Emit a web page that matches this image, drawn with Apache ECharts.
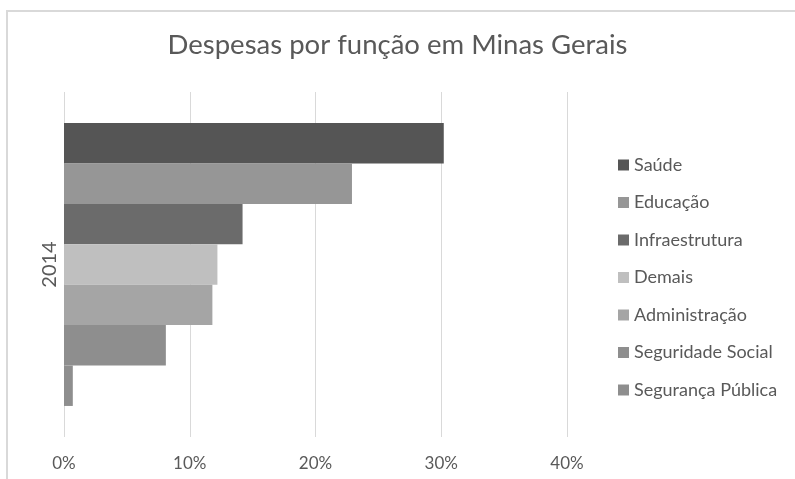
<!DOCTYPE html>
<html>
<head>
<meta charset="utf-8">
<script src="https://cdn.jsdelivr.net/npm/echarts@6/dist/echarts.min.js"></script>
<style>html,body{margin:0;padding:0;background:#fff}#c{width:795px;height:479px}</style>
</head>
<body>
<div id="c"></div>
<script>
const categories = ['2014'];
const seriesNames = ['Saúde', 'Educação', 'Infraestrutura', 'Demais', 'Administração', 'Seguridade Social', 'Segurança Pública'];
const seriesValues = [0.302, 0.229, 0.142, 0.122, 0.118, 0.081, 0.007];
const seriesColors = ['#555555', '#969696', '#6b6b6b', '#bfbfbf', '#a5a5a5', '#8e8e8e', '#8e8e8e'];
const tickValues = [0, 0.1, 0.2, 0.3, 0.4];

const font = 'Lato, "Open Sans", sans-serif';
const chart = echarts.init(document.getElementById('c'), null, {renderer: 'canvas'});
chart.setOption({
  animation: false,
  backgroundColor: '#ffffff',
  title: {
    text: 'Despesas por função em Minas Gerais',
    left: 'center', top: 26,
    textStyle: {color: '#595959', fontSize: 27.5, fontWeight: 'normal', fontFamily: font}
  },
  legend: {
    orient: 'vertical',
    left: 613, top: 151,
    itemWidth: 11, itemHeight: 11, itemGap: 19.5,
    icon: 'rect',
    textStyle: {color: '#595959', fontSize: 18, fontFamily: font},
    data: seriesNames
  },
  grid: {left: 64, right: 228, top: 92, bottom: 42, containLabel: false},
  xAxis: {
    type: 'value', min: tickValues[0], max: tickValues[tickValues.length - 1], interval: 0.1,
    axisLine: {show: false}, axisTick: {show: false},
    splitLine: {lineStyle: {color: '#d9d9d9', width: 1}},
    axisLabel: {color: '#595959', fontSize: 17, fontFamily: font, margin: 18,
      formatter: v => Math.round(v * 100) + '%'}
  },
  yAxis: {
    type: 'category', data: categories, inverse: true,
    axisLine: {show: false}, axisTick: {show: false},
    axisLabel: {color: '#595959', fontSize: 20, fontFamily: font, rotate: 90, margin: 4}
  },
  series: seriesNames.map((name, i) => ({
    name: name, type: 'bar',
    data: [seriesValues[i]],
    barGap: '0%', barCategoryGap: '18%',
    itemStyle: {color: seriesColors[i]}
  })),
  graphic: [
    {type: 'line', shape: {x1: 6, y1: 11, x2: 795, y2: 11}, style: {stroke: '#d9d9d9', lineWidth: 2}},
    {type: 'line', shape: {x1: 7, y1: 10, x2: 7, y2: 479}, style: {stroke: '#d9d9d9', lineWidth: 2}}
  ]
});
</script>
</body>
</html>
